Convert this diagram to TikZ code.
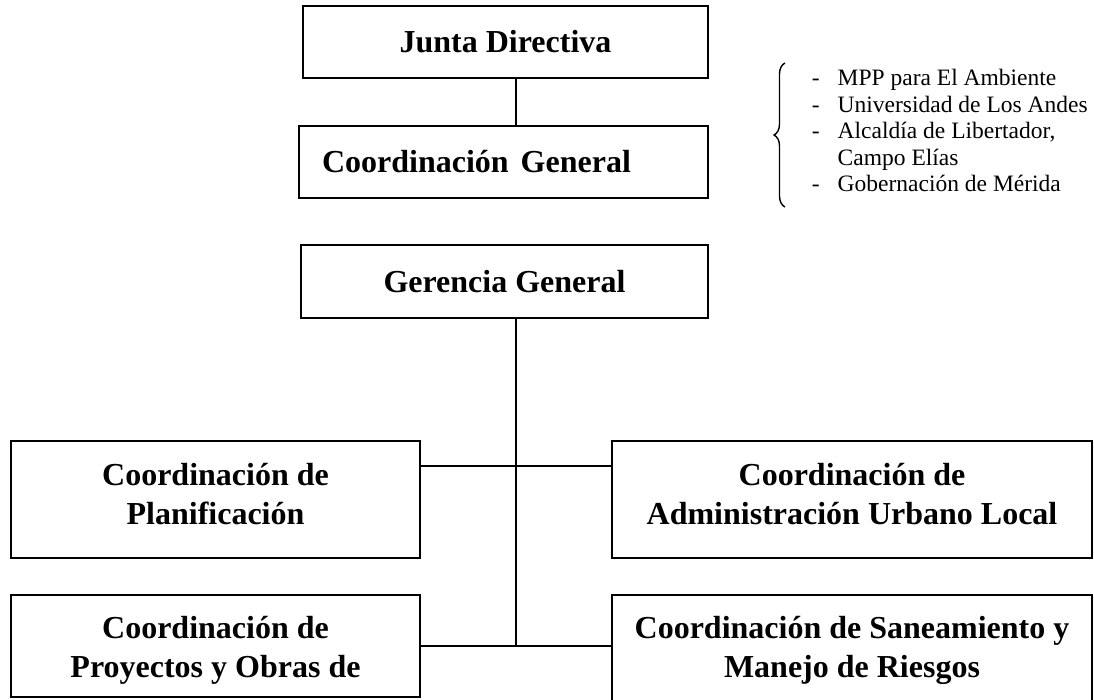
\documentclass[tikz,border=0pt]{standalone}
\usepackage{fontspec}
\setmainfont{Liberation Serif}
\usepackage{tikz}
\usetikzlibrary{positioning,calc,decorations.pathreplacing}

\tikzset{
    orgbox/.style={draw, inner sep=0pt},
    orgtext/.style={font=\bfseries\fontsize{32}{39}\selectfont, align=center, inner sep=0pt},
    members/.style={font=\fontsize{23.5}{26.5}\selectfont, inner sep=0pt, anchor=base west},
}

\begin{document}
\begin{tikzpicture}[x=1pt, y=-1pt, line width=1.8pt]
    \clip (0,0) rectangle (1094,700);
    % board and general coordination
    \node [orgbox, orgtext, minimum width=405pt, minimum height=72pt] (jd) at (505.5,42) {Junta Directiva};
    \node [orgbox, orgtext, align=left, text width=363pt, inner xsep=23pt, minimum height=72pt] (cg) at (503.5,162) {Coordinación\hspace{12pt}General};
    \node [orgbox, orgtext, minimum width=407pt, minimum height=73pt] (gg) at (504.5,281.5) {Gerencia General};

    % coordinations
    \node [orgbox, minimum width=409pt, minimum height=117pt] (pl) at (215.5,499.5) {};
    \node [orgbox, minimum width=480pt, minimum height=117pt] (adm) at (852,499.5) {};
    \node [orgbox, minimum width=409pt, minimum height=102pt] (pro) at (215.5,646) {};
    \node [orgbox, minimum width=480pt, minimum height=140pt] (san) at (852,665) {}; % runs off the page
    \node [orgtext] (pltext) at ([yshift=-54pt]pl.north) {Coordinación de\\Planificación};
    \node [orgtext] (admtext) at ([yshift=-54pt]adm.north) {Coordinación de\\Administración Urbano Local};
    \node [orgtext] (protext) at ([yshift=-56pt]pro.north) {Coordinación de\\Proyectos y Obras de};
    \node [orgtext] (santext) at ([yshift=-56pt]san.north) {Coordinación de Saneamiento y\\Manejo de Riesgos};

    % lines
    \coordinate (hub) at (516,646);
    \coordinate (tee) at (516,466);
    \draw (jd.south -| hub) -- (cg.north -| hub);
    \draw (gg.south -| hub) -- (hub);
    \draw (tee -| pl.east) -- (tee -| adm.west);
    \draw (hub -| pro.east) -- (hub -| san.west);

    % members of the board
    \coordinate (bb) at (785,207);
    \coordinate (bt) at (785,63);
    \draw [decorate, decoration={brace, amplitude=11pt}, line width=1.4pt] (bb) -- (bt);
    \node [members] (list) at (811,86) {%
        \begin{tabular}[t]{@{}l@{\hspace{18pt}}l@{}}
        - & MPP para El Ambiente\\
        - & Universidad de Los Andes\\
        - & Alcaldía de Libertador,\\
          & Campo Elías\\
        - & Gobernación de Mérida
        \end{tabular}};
\end{tikzpicture}
\end{document}
